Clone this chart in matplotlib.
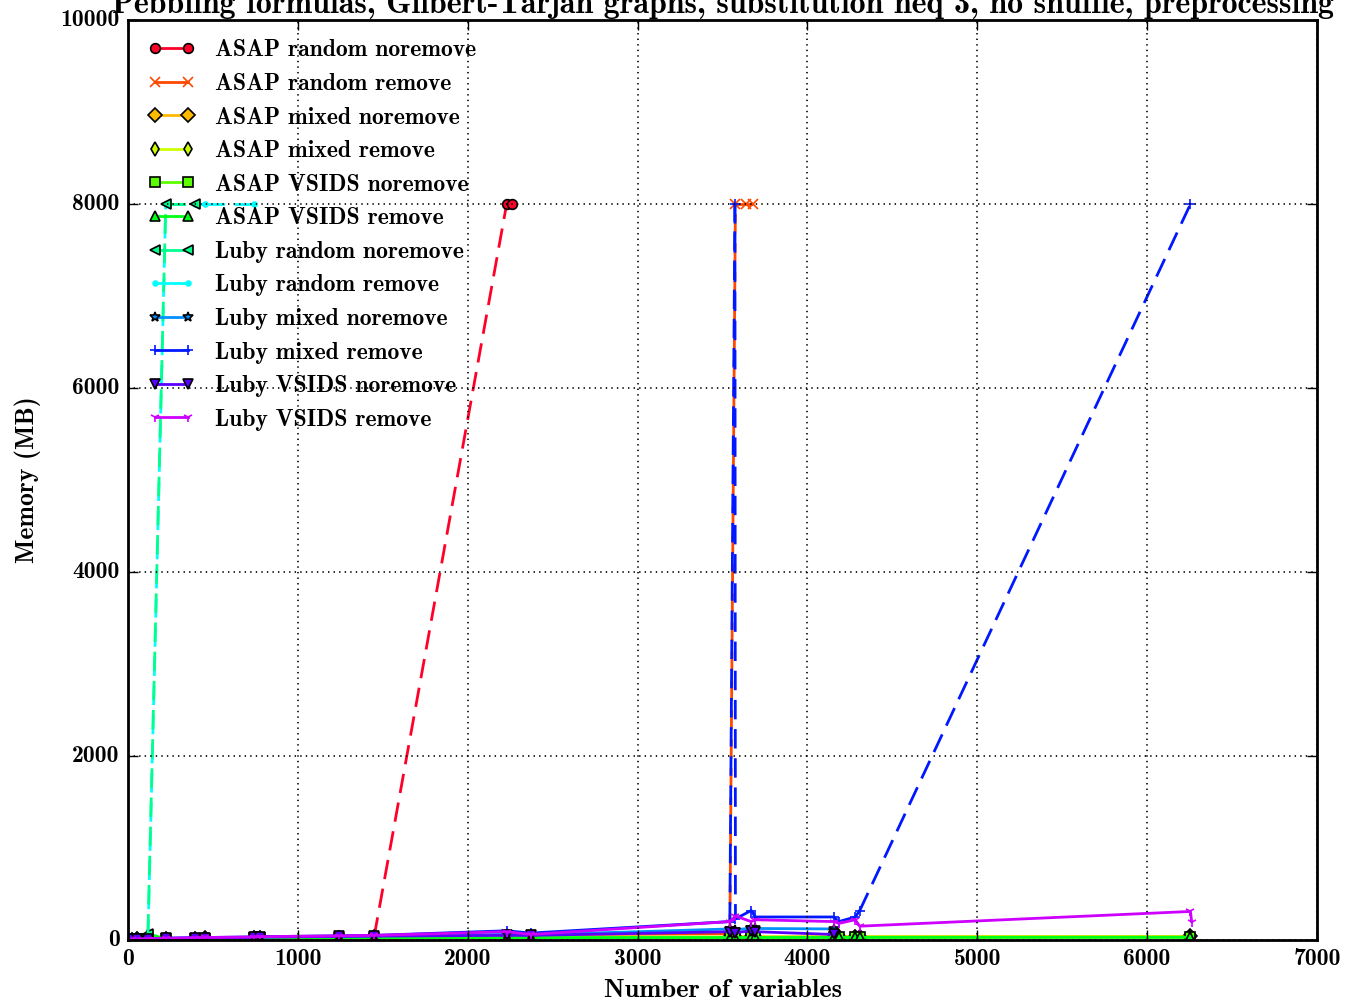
import numpy as np
import matplotlib
matplotlib.use('Agg')
import matplotlib.pyplot as plt

plt.style.use('classic')
plt.rcParams['font.family'] = 'cmb10'
plt.rcParams['axes.unicode_minus'] = False
plt.rcParams['lines.scale_dashes'] = False

MEMOUT = 8000
N = None

num_vars = [24, 54, 117, 222, 396, 453, 744, 777, 1242, 1449,
            2229, 2258, 2370, 3543, 3573, 3576, 3640, 3669, 3680, 3693,
            4155, 4185, 4281, 4308, 6255, 6262]

labels = ['ASAP random noremove', 'ASAP random remove', 'ASAP mixed noremove',
          'ASAP mixed remove', 'ASAP VSIDS noremove', 'ASAP VSIDS remove',
          'Luby random noremove', 'Luby random remove', 'Luby mixed noremove',
          'Luby mixed remove', 'Luby VSIDS noremove', 'Luby VSIDS remove']
markers = ['o', 'x', 'D', 'd', 's', '^', '<', '.', '*', '+', 'v', '1']

asap_random_noremove = [6, 8, 12, 14, 18, 20, 26, 28, 34, 38, MEMOUT, MEMOUT,
                        N, N, N, N, N, N, N, N, N, N, N, N, N, N]
asap_random_remove = [6, 8, 11, 14, 17, 19, 24, 27, 32, 36, 45, N, 55, 70, N,
                      MEMOUT, MEMOUT, N, MEMOUT, N, N, N, N, N, N, N]
asap_mixed_noremove = [5, 7, 10, 12, 15, 17, 20, 22, 25, 27, 30, N, 31, 33, N,
                       33, N, 35, N, 35, 36, 36, 37, 37, 38, N]
asap_mixed_remove = [5, 7, 9, 11, 14, 16, 19, 21, 24, 26, 28, N, 29, 30, N,
                     31, N, 32, N, 32, 33, 33, 34, 34, 35, N]
asap_vsids_noremove = [4, 6, 9, 11, 13, 15, 18, 20, 22, 24, 25, N, 26, 27, N,
                       27, N, 28, N, 28, 28, 29, 29, 29, 30, N]
asap_vsids_remove = [4, 6, 70, 10, 12, 14, 17, 19, 21, 23, 24, N, 25, 26, N,
                     26, N, 27, N, 27, 27, 28, 28, 28, 29, N]
luby_random_noremove = [8, 15, 70, MEMOUT, MEMOUT, N, N, N, N, N, N, N, N,
                        N, N, N, N, N, N, N, N, N, N, N, N, N]
luby_random_remove = [8, 12, 18, MEMOUT, MEMOUT, MEMOUT, MEMOUT, N, N, N, N,
                      N, N, N, N, N, N, N, N, N, N, N, N, N, N, N]
luby_mixed_noremove = [6, 9, 14, 18, 22, 25, 30, 33, 40, 45, 60, N, 55, 120, N,
                       110, N, 130, N, 125, 120, N, N, N, N, N]
luby_mixed_remove = [7, 10, 15, 19, 24, 27, 33, 36, 45, 50, 100, N, 75, 200,
                     MEMOUT, 230, N, 320, N, 250, 250, 200, 250, 320, MEMOUT, N]
luby_vsids_noremove = [6, 9, 13, 17, 21, 24, 28, 31, 38, 42, 50, N, 50, 90, N,
                       80, N, 100, N, 90, 60, N, N, N, N, N]
luby_vsids_remove = [7, 10, 15, 19, 24, 27, 33, 36, 45, 50, 90, N, 60, 200, N,
                     260, N, 200, N, 220, 200, 180, 220, 150, 310, 200]

series = [asap_random_noremove, asap_random_remove, asap_mixed_noremove,
          asap_mixed_remove, asap_vsids_noremove, asap_vsids_remove,
          luby_random_noremove, luby_random_remove, luby_mixed_noremove,
          luby_mixed_remove, luby_vsids_noremove, luby_vsids_remove]

colors = plt.cm.gist_rainbow(np.arange(12) / 12.0)

fig = plt.figure(figsize=(13.48, 10.05), dpi=100)
ax = fig.add_axes([0.095, 0.0647, 0.882, 0.9153])

for k, (name, mem, color, mk) in enumerate(zip(labels, series, colors, markers)):
    pts = [(x, y) for x, y in zip(num_vars, mem) if y is not None]
    xs = np.array([p[0] for p in pts], dtype=float)
    ys = np.array([p[1] for p in pts], dtype=float)
    failed = ys >= MEMOUT
    # cyan run hides behind the green one in the original
    z = 1.5 if name == 'Luby random remove' else 2
    # solid line through finished runs
    ok = np.where(failed, np.nan, ys)
    ax.plot(xs, ok, color=color, marker=mk, lw=2, ms=7, mew=1.2, label=name)
    # dashed segments towards memory-outs
    for i in range(len(xs) - 1):
        if failed[i] or failed[i + 1]:
            ax.plot(xs[i:i + 2], ys[i:i + 2], color=color, lw=2, ls='--',
                    dashes=(14, 7), zorder=z)
    ax.plot(xs[failed], ys[failed], color=color, marker=mk, ls='none',
            ms=7, mew=1.2, zorder=z)

ax.set_xlim(0, 7000)
ax.set_ylim(0, 10000)
ax.set_xticks(np.arange(0, 7001, 1000))
ax.set_yticks(np.arange(0, 10001, 2000))
ax.tick_params(labelsize=17, length=7, width=1, pad=6)
ax.grid(True, color='k', ls=':', lw=1.2)
for s in ax.spines.values():
    s.set_linewidth(2)

ax.set_xlabel('Number of variables', fontsize=19, labelpad=6)
ax.set_ylabel('Memory (MB)', fontsize=18.5, labelpad=14)
ax.set_title('Pebbling formulas, Gilbert-Tarjan graphs, substitution neq 3, '
             'no shuffle, preprocessing', fontsize=23, y=1.0, pad=5)

ax.legend(loc='upper left', frameon=False, fontsize=17, numpoints=2,
          labelspacing=0.49, borderaxespad=0.42, handletextpad=0.85)

fig.savefig('out.png', dpi=100)
